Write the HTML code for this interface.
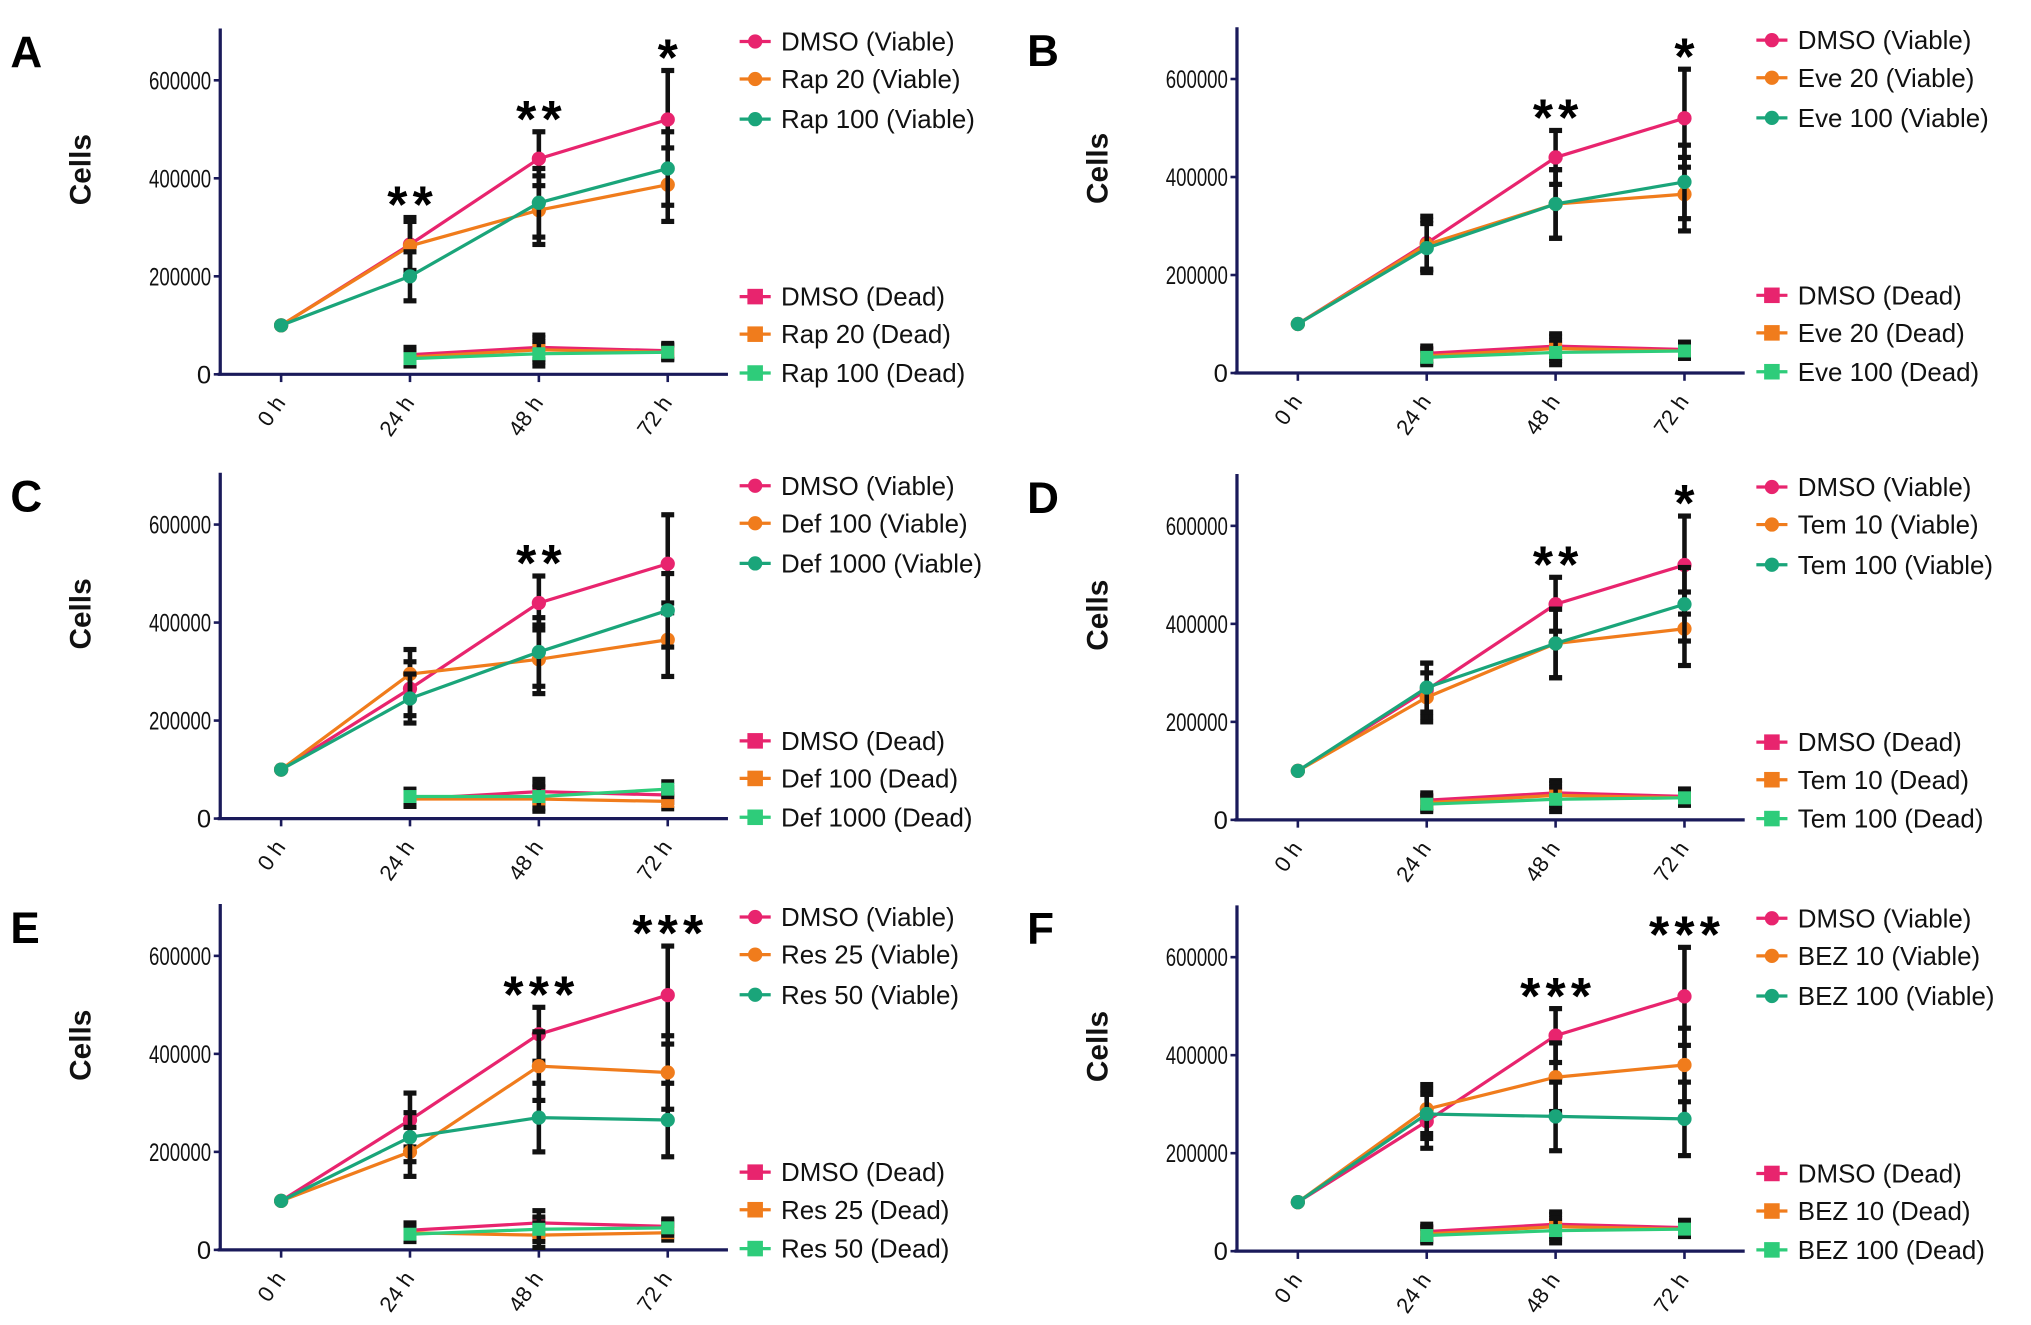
<!DOCTYPE html>
<html><head><meta charset="utf-8"><style>
html,body{margin:0;padding:0;background:#fff}
svg{display:block;font-family:"Liberation Sans",Arial,sans-serif}
</style></head><body>
<svg id="fig" width="2031" height="1325" viewBox="0 0 1568 1023" xmlns="http://www.w3.org/2000/svg"></svg>
<script>
const timeLabels = ["0 h","24 h","48 h","72 h"];
const yTicks = [0,200000,400000,600000];
// values in thousands of cells
const dmsoViable = [100,265,440,520];
const dmsoViableErr = [0,55,55,100];
const rap20Viable = [100,262,335,387];
const rap100Viable = [100,200,350,420];
const eve20Viable = [100,262,345,365];
const eve100Viable = [100,255,345,390];
const def100Viable = [100,295,325,365];
const def1000Viable = [100,245,340,425];
const tem10Viable = [100,250,360,390];
const tem100Viable = [100,270,360,440];
const res25Viable = [100,200,375,362];
const res50Viable = [100,230,270,265];
const bez10Viable = [100,290,355,380];
const bez100Viable = [100,280,275,270];
const viableErr = [0,50,70,75];
const dmsoDead = [null,40,55,48];
const drugADead = [null,35,50,45];
const drugBDead = [null,32,42,45];
const deadErr = [0,15,25,15];
const defDeadA = [null,40,40,35];
const defDeadB = [null,45,45,60];
const resDeadA = [null,35,30,35];

const panels = [
 {id:"A",ox:170,zy:289,names:["Rap 20","Rap 100"],v:[rap20Viable,rap100Viable],d:[drugADead,drugBDead],stars:["","**","**","*"]},
 {id:"B",ox:955,zy:288,names:["Eve 20","Eve 100"],v:[eve20Viable,eve100Viable],d:[drugADead,drugBDead],stars:["","","**","*"]},
 {id:"C",ox:170,zy:632,names:["Def 100","Def 1000"],v:[def100Viable,def1000Viable],d:[defDeadA,defDeadB],stars:["","","**",""]},
 {id:"D",ox:955,zy:633,names:["Tem 10","Tem 100"],v:[tem10Viable,tem100Viable],d:[drugADead,drugBDead],stars:["","","**","*"]},
 {id:"E",ox:170,zy:965,names:["Res 25","Res 50"],v:[res25Viable,res50Viable],d:[resDeadA,drugBDead],stars:["","","***","***"]},
 {id:"F",ox:955,zy:966,names:["BEZ 10","BEZ 100"],v:[bez10Viable,bez100Viable],d:[drugADead,drugBDead],stars:["","","***","***"]}
];
const colV = ["#e8246e","#f07c1c","#1aa57a"];
const colD = ["#e8246e","#f07c1c","#2ecc7a"];
const svg = document.getElementById('fig');
const NS = "http://www.w3.org/2000/svg";
function mk(tag, attrs, parent, txt){
  const e=document.createElementNS(NS,tag);
  for(const k in attrs) e.setAttribute(k,attrs[k]);
  if(txt!==undefined) e.textContent=txt;
  (parent||svg).appendChild(e); return e;
}
panels.forEach(p=>{
  const g = mk('g',{});
  
  
  const xs = i => p.ox+47+i*99.5;
  const ys = v => p.zy - v*1000*(227/600000);
  const ya = mk('line',{x1:p.ox,y1:p.zy-267,x2:p.ox,y2:p.zy+1,stroke:"#1a1a5a","stroke-width":2.5},g);
  
  
  const xa = mk('line',{x1:p.ox-2,y1:p.zy,x2:p.ox+392,y2:p.zy,stroke:"#1a1a5a","stroke-width":2.5},g);
  
  
  yTicks.forEach(t=>{
    const y=p.zy - t*(227/600000);
    mk('line',{x1:p.ox-5,y1:y,x2:p.ox,y2:y,stroke:"#1a1a5a","stroke-width":2},g);
    const tl=mk('text',{x:p.ox-7,y:y+7,"text-anchor":"end","font-size":19,"textLength":t===0?11:48,"lengthAdjust":"spacingAndGlyphs",fill:"#111"},g,String(t));
    
    
  });
  timeLabels.forEach((l,i)=>{
    const x=xs(i);
    mk('line',{x1:x,y1:p.zy,x2:x,y2:p.zy+6,stroke:"#1a1a5a","stroke-width":2},g);
    const tl=mk('text',{x:x+4,y:p.zy+22,"text-anchor":"end","font-size":17,fill:"#111",transform:`rotate(-55 ${x+4} ${p.zy+22})`},g,l);
    
    
  });
  const yl=mk('text',{x:0,y:0,"font-size":23,"font-weight":"bold",fill:"#111","text-anchor":"middle",transform:`translate(${p.ox-100},${p.zy-158}) rotate(-90)`},g,"Cells");
  
  
  const pl=mk('text',{x:p.ox-162,y:p.zy-237,"font-size":34,"font-weight":"bold",fill:"#000"},g,p.id);
  
  
  const viable=[dmsoViable].concat(p.v);
  const dead=[dmsoDead].concat(p.d);
  function series(vals,err,col,sq,name){
    const sg=mk('g',{},g);
    
    
    vals.forEach((v,i)=>{
      if(v===null||!err[i]) return;
      const x=xs(i),y1=ys(v+err[i]),y2=ys(v-err[i]);
      mk('line',{x1:x,y1:y1,x2:x,y2:y2,stroke:"#111","stroke-width":3.5},sg);
      mk('line',{x1:x-5,y1:y1,x2:x+5,y2:y1,stroke:"#111","stroke-width":4},sg);
      mk('line',{x1:x-5,y1:y2,x2:x+5,y2:y2,stroke:"#111","stroke-width":4},sg);
    });
    const pts=vals.map((v,i)=>v===null?null:xs(i)+","+ys(v)).filter(s=>s).join(" ");
    mk('polyline',{points:pts,fill:"none",stroke:col,"stroke-width":2.5},sg);
    vals.forEach((v,i)=>{
      if(v===null) return;
      const x=xs(i),y=ys(v);
      if(sq) mk('rect',{x:x-5,y:y-5,width:10,height:10,fill:col},sg);
      else mk('circle',{cx:x,cy:y,r:5.5,fill:col},sg);
    });
  }
  viable.forEach((v,k)=>series(v,k===0?dmsoViableErr:viableErr,colV[k],false,'series-viable-'+k));
  dead.forEach((v,k)=>series(v,deadErr,colD[k],true,'series-dead-'+k));
  p.stars.forEach((s,i)=>{
    if(!s) return;
    const top=ys(dmsoViable[i]+dmsoViableErr[i]);
    const st=mk('text',{x:xs(i)+2,y:top+4,"text-anchor":"middle","font-size":40,"font-weight":"bold","letter-spacing":4,fill:"#000"},g,s);
    
    
  });
  const labels=["DMSO (Viable)",p.names[0]+" (Viable)",p.names[1]+" (Viable)","DMSO (Dead)",p.names[0]+" (Dead)",p.names[1]+" (Dead)"];
  const rows=[257,228,197,60,31,1];
  labels.forEach((l,k)=>{
    const y=p.zy-rows[k];
    const lg=mk('g',{},g);
    
    
    const col=k<3?colV[k]:colD[k-3];
    const mx=p.ox+413;
    mk('line',{x1:mx-12,y1:y,x2:mx+12,y2:y,stroke:col,"stroke-width":2.5},lg);
    if(k<3) mk('circle',{cx:mx,cy:y,r:5.5,fill:col},lg);
    else mk('rect',{x:mx-6,y:y-6,width:12,height:12,fill:col},lg);
    mk('text',{x:mx+20,y:y+7,"font-size":20,fill:"#111"},lg,l);
  });
});
</script>
</body></html>
